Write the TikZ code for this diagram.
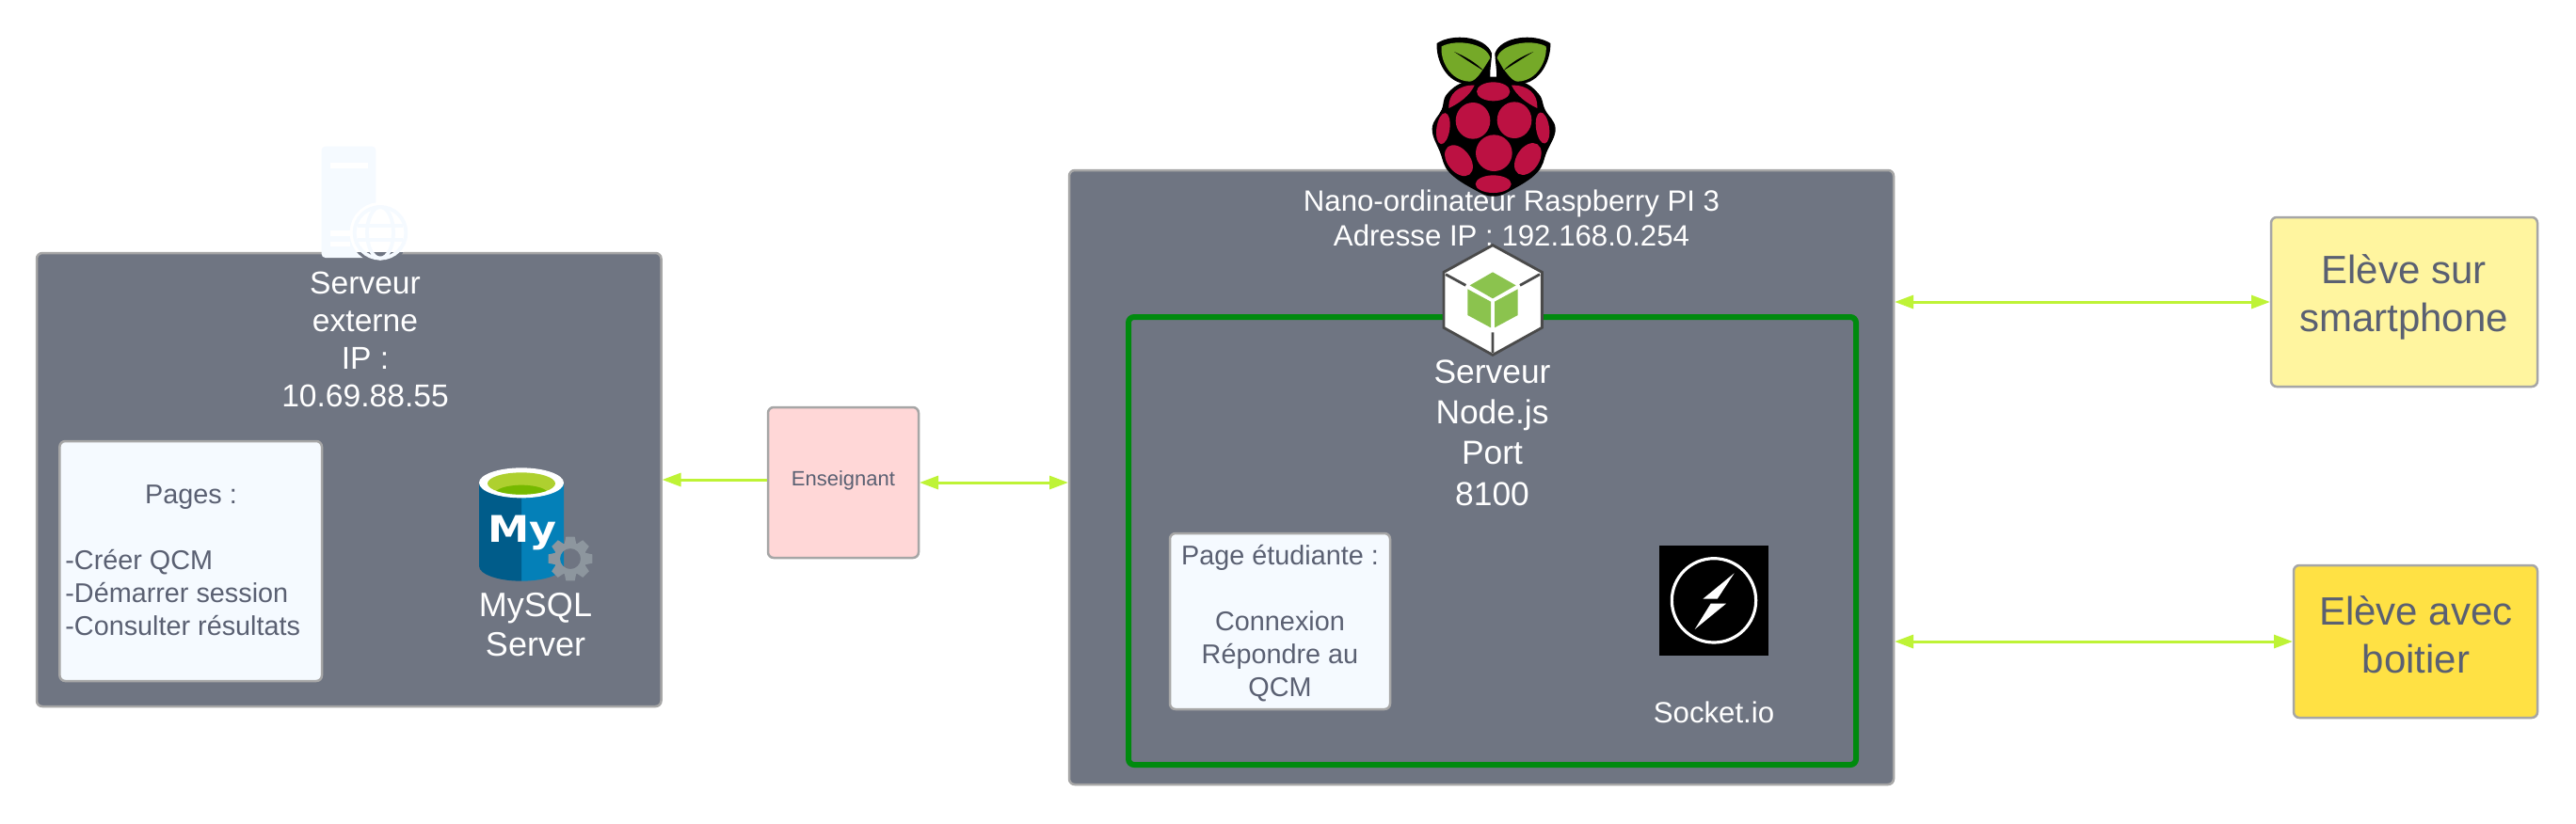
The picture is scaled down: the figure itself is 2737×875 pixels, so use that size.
\documentclass[tikz,border=0pt]{standalone}
\usepackage{fontspec}
\setmainfont{Liberation Sans}
\newfontfamily\iconfont{DejaVu Sans}
\usetikzlibrary{arrows.meta,shapes.geometric}
\definecolor{panel}{HTML}{6F7582}
\definecolor{edgegrey}{HTML}{A6A6A6}
\definecolor{inktext}{HTML}{5A6072}
\definecolor{paleblue}{HTML}{F5FAFF}
\definecolor{linkgreen}{HTML}{BEF336}
\definecolor{srvgreen}{HTML}{008A0E}
\definecolor{pinkfill}{HTML}{FFD7D7}
\definecolor{lightyellow}{HTML}{FFF59F}
\definecolor{goldfill}{HTML}{FFE144}
\definecolor{rasp}{HTML}{BC1142}
\definecolor{leaf}{HTML}{75A928}
\definecolor{nodegreen}{HTML}{8BC34E}
\definecolor{nodedark}{HTML}{4A4A4A}
\definecolor{mydark}{HTML}{005C8A}
\definecolor{myblue}{HTML}{0480B8}
\definecolor{mylime}{HTML}{AED02F}
\definecolor{mygreen}{HTML}{76B900}
\definecolor{gearcol}{HTML}{8D969E}
\tikzset{
  panelbox/.style={draw=edgegrey,line width=1.25pt,rounded corners=3pt,outer sep=0pt,inner sep=0pt},
  link/.style={draw=linkgreen,line width=1.5pt,shorten <=0.5pt,shorten >=0.5pt},
  both/.style={link,arrows={Triangle[length=10pt,width=7pt]-Triangle[length=10pt,width=7pt]}},
  oneway/.style={link,arrows={-Triangle[length=10pt,width=7pt]}},
  lab/.style={inner sep=0pt,align=center},
  whiteA/.style={lab,text=white,font=\fontsize{16.8}{20}\selectfont},
  whiteB/.style={lab,text=white,font=\fontsize{15.6}{18.5}\selectfont},
  whiteC/.style={lab,text=white,font=\fontsize{17.7}{21.7}\selectfont},
  inkA/.style={lab,text=inktext,font=\fontsize{14.4}{17.5}\selectfont},
  inkB/.style={lab,text=inktext,font=\fontsize{21}{25.5}\selectfont},
}
\begin{document}
\begin{tikzpicture}[x=0.5pt,y=-0.5pt]
\path[use as bounding box,fill=white] (0,0) rectangle (2737,875);

% panels
\node[panelbox,fill=panel,minimum width=331.75pt,minimum height=241pt] (ext) at (370.75,510) {};
\node[panelbox,fill=panel,minimum width=438pt,minimum height=326.5pt] (pi) at (1574,507.5) {};
\node[draw=srvgreen,line width=3pt,rounded corners=3pt,outer sep=0pt,inner sep=0pt,minimum width=386.5pt,minimum height=238pt] (srv) at (1585.5,575) {};
\node[panelbox,fill=paleblue,minimum width=139.3pt,minimum height=127.5pt] (pages) at (202.7,596.5) {};
\node[panelbox,fill=paleblue,minimum width=117pt,minimum height=93.5pt] (etu) at (1360,660.5) {};
\node[panelbox,fill=pinkfill,minimum width=80pt,minimum height=80pt] (ens) at (896,513) {};
\node[panelbox,fill=lightyellow,minimum width=141.5pt,minimum height=90pt] (phone) at (2554.5,321) {};
\node[panelbox,fill=goldfill,minimum width=129.5pt,minimum height=81pt] (boit) at (2566.5,682) {};

% connectors
\coordinate (ensl) at (816,510);
\draw[oneway] (ensl) -- (ext.east |- ensl);
\draw[both] (ens.east) -- (pi.west |- ens.east);
\draw[both] (pi.east |- phone.west) -- (phone.west);
\draw[both] (pi.east |- boit.west) -- (boit.west);

% texts
\node[whiteA] (t1) at (388,360.5) {Serveur\\externe\\IP :\\10.69.88.55};
\node[inkA] (t2) at (203,529) {Pages :};
\node[inkA,align=left,anchor=west] (t3) at (69,630) {-Créer QCM\\-Démarrer session\\-Consulter résultats};
\node[whiteC,font=\fontsize{18}{21}\selectfont] (t4) at (569,664) {MySQL\\Server};
\node[whiteB] (t5) at (1606,232) {Nano-ordinateur Raspberry PI 3\\Adresse IP : 192.168.0.254};
\node[whiteC] (t6) at (1585.5,460) {Serveur\\Node.js\\ Port\\8100};
\node[inkA] (t7) at (1360,663) {Page étudiante :\\\mbox{}\\Connexion\\Répondre au\\QCM};
\node[whiteB] (t8) at (1821,757) {Socket.io};
\node[lab,text=inktext,font=\fontsize{11}{13}\selectfont] (t9) at (896,511) {Enseignant};
\node[inkB] (t10) at (2554,316) {Elève sur\\smartphone};
\node[inkB] (t11) at (2567,675) {Elève avec\\boitier};

% server icon
\begin{scope}[shift={(300,130)},x=0.16667pt,y=-0.16667pt]
  \fill[paleblue,rounded corners=2pt] (125,77) rectangle (298,432);
  \begin{scope}
    \clip (0,0) rectangle (600,415);
    \fill[white] (312,352) circle (97);
  \end{scope}
  \begin{scope}
    \clip (0,415) rectangle (600,470);
    \fill[panel] (312,352) circle (97);
  \end{scope}
  \fill[white] (152,130) rectangle (272,148);
  \fill[white] (152,345) rectangle (215,362);
  \fill[white] (152,380) rectangle (215,397);
  \begin{scope}[draw=paleblue,line width=1.9pt]
    \draw (312,352) circle (82);
    \draw (312,352) ellipse [x radius=42,y radius=82];
    \draw (240,330) -- (384,330);
    \draw (240,376) -- (384,376);
  \end{scope}
\end{scope}

% mysql icon
\begin{scope}[shift={(480,480)},x=0.16667pt,y=-0.16667pt]
  \fill[myblue] (222,100) -- (357,100) -- (357,365) arc [start angle=0,end angle=90,x radius=135,y radius=48] -- cycle;
  \fill[mydark] (222,100) -- (87,100) -- (87,365) arc [start angle=180,end angle=90,x radius=135,y radius=48] -- cycle;
  \fill[white] (222,100) ellipse [x radius=135,y radius=48];
  \fill[mylime] (222,102) ellipse [x radius=108,y radius=35];
  \begin{scope}
    \clip (222,102) ellipse [x radius=108,y radius=35];
    \fill[mygreen] (222,135) ellipse [x radius=85,y radius=28];
  \end{scope}
  \node[inner sep=0pt,anchor=base,xscale=1.14,text=white,font=\iconfont\bfseries\fontsize{19.5}{19.5}\selectfont] (my) at (225,290) {My};
  \fill[gearcol,even odd rule] (378,342) circle (52) (378,342) circle (33);
  \foreach \a in {0,45,...,315}
    \fill[gearcol,rotate around={\a:(378,342)}] (364,272) -- (392,272) -- (397,296) -- (359,296) -- cycle;
\end{scope}

% raspberry
\begin{scope}[shift={(1450,20)},x=0.16667pt,y=-0.16667pt]
  \fill[black] plot[smooth cycle,tension=0.7] coordinates {(410,185) (320,200) (262,240) (245,290) (215,350) (240,425) (270,490) (350,545) (410,566) (470,545) (550,490) (580,425) (608,350) (575,290) (555,240) (500,200)};
  \fill[black] (410,205) .. controls (390,200) and (405,140) .. (405,110) .. controls (385,55) and (280,45) .. (230,78) .. controls (226,130) and (260,208) .. (330,208) -- cycle;
  \fill[black] (410,205) .. controls (430,200) and (415,140) .. (415,110) .. controls (435,55) and (540,45) .. (592,78) .. controls (594,130) and (560,208) .. (490,208) -- cycle;
  \fill[leaf] (400,125) .. controls (390,80) and (295,62) .. (245,88) .. controls (240,130) and (270,198) .. (335,200) .. controls (355,198) and (370,170) .. (378,160) -- cycle;
  \fill[leaf] (422,125) .. controls (432,80) and (530,62) .. (578,88) .. controls (582,130) and (552,198) .. (487,200) .. controls (467,198) and (452,170) .. (442,160) -- cycle;
  \fill[black] (285,105) .. controls (320,120) and (355,140) .. (378,165) .. controls (345,145) and (315,125) .. (285,105) -- cycle;
  \fill[black] (538,105) .. controls (500,120) and (465,140) .. (442,165) .. controls (475,145) and (505,125) .. (538,105) -- cycle;
  \fill[rasp] (410,232) ellipse [x radius=53,y radius=30];
  \fill[rasp] (268,285) .. controls (265,240) and (300,210) .. (350,212) .. controls (335,245) and (300,270) .. (268,285) -- cycle;
  \fill[rasp] (550,285) .. controls (553,240) and (520,210) .. (468,212) .. controls (483,245) and (518,270) .. (550,285) -- cycle;
  \fill[rasp] (345,325) ellipse [x radius=55,y radius=58];
  \fill[rasp] (477,323) ellipse [x radius=55,y radius=58];
  \fill[rasp,rotate around={-8:(250,350)}] (250,350) ellipse [x radius=21,y radius=50];
  \fill[rasp,rotate around={8:(567,348)}] (567,348) ellipse [x radius=21,y radius=50];
  \fill[rasp] (412,428) circle (58);
  \fill[rasp,rotate around={38:(300,452)}] (300,452) ellipse [x radius=36,y radius=56];
  \fill[rasp,rotate around={-33:(520,447)}] (520,447) ellipse [x radius=36,y radius=56];
  \fill[rasp] (410,527) ellipse [x radius=57,y radius=28];
\end{scope}

% node.js cube
\begin{scope}[shift={(1450,20)},x=0.16667pt,y=-0.16667pt]
  \draw[nodedark,fill=white,line width=1.4pt] (408,722) -- (565,808) -- (565,985) -- (408,1072) -- (252,985) -- (252,808) -- cycle;
  \draw[nodedark,line width=1.4pt] (258,815) -- (322,850) (558,815) -- (495,850) (408,1000) -- (408,1065);
  \fill[nodegreen] (408,808) -- (482,850) -- (408,892) -- (335,850) -- cycle;
  \fill[nodegreen] (328,862) -- (402,902) -- (402,985) -- (328,945) -- cycle;
  \fill[nodegreen] (414,902) -- (488,862) -- (488,945) -- (414,985) -- cycle;
\end{scope}

% socket.io icon
\begin{scope}[shift={(1700,540)},x=0.16667pt,y=-0.16667pt]
  \fill[black] (189,120) rectangle (537,470);
  \draw[white,line width=1.6pt] (363,295) circle (134);
  \fill[white] (428,208) -- (328,290) -- (374,290) -- cycle;
  \fill[white] (302,387) -- (402,305) -- (353,305) -- cycle;
\end{scope}
\end{tikzpicture}
\end{document}
